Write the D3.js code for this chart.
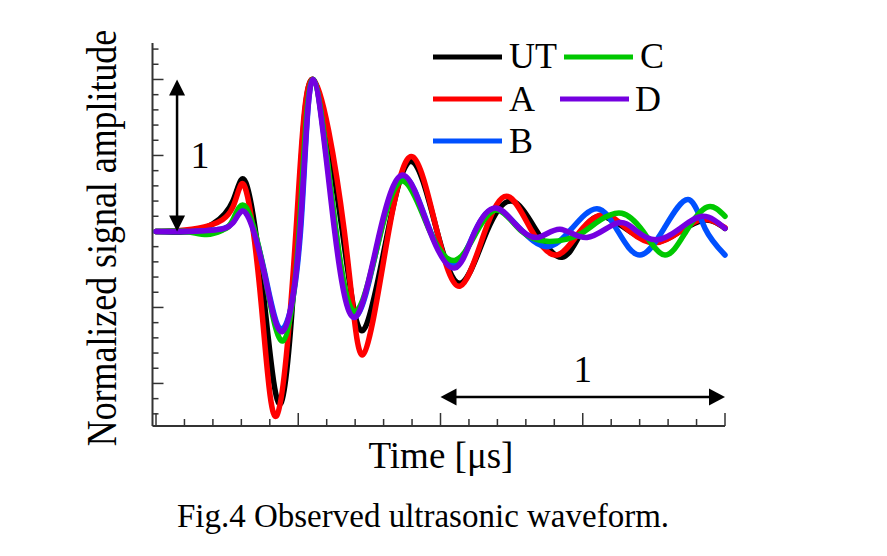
<!DOCTYPE html>
<html>
<head>
<meta charset="utf-8">
<script src="https://cdn.jsdelivr.net/npm/d3@7/dist/d3.min.js"></script>
<style>
  html, body { margin: 0; padding: 0; background: #fff; }
  svg { display: block; }
  text { font-family: "Liberation Serif", "Times New Roman", serif; fill: #000; }
</style>
</head>
<body>
<svg id="chart" width="887" height="556"></svg>
<script>
// ---- data (time in µs, normalized amplitude) ----
const seriesNames = ["UT", "A", "B", "C", "D"];
const seriesColors = ["#000000", "#ff0000", "#0050ff", "#00c800", "#7400e0"];

const dataUT = [[0,0],[0.12,0],[0.2,0.05],[0.27,0.2],[0.316,0.32],[0.377,-0.4],[0.439,-1.13],[0.496,0],[0.552,1.0],[0.655,0],[0.728,-0.65],[0.815,0],[0.9,0.46],[0.988,0],[1.072,-0.34],[1.163,0],[1.251,0.2],[1.339,0],[1.427,-0.17],[1.497,0],[1.568,0.1],[1.666,0],[1.754,-0.07],[1.842,0],[1.93,0.075],[2.0,0.02]];
const dataA = [[0,0],[0.102,0.01],[0.19,0.04],[0.27,0.16],[0.313,0.29],[0.369,-0.46],[0.425,-1.21],[0.492,0],[0.552,1.0],[0.662,0],[0.728,-0.81],[0.818,0],[0.903,0.49],[0.988,0],[1.069,-0.36],[1.156,0],[1.237,0.23],[1.322,0],[1.409,-0.155],[1.49,0],[1.578,0.11],[1.666,0],[1.754,-0.075],[1.842,0],[1.923,0.08],[2.0,0.025]];
const dataB = [[0,0],[0.12,0],[0.207,0.01],[0.27,0.06],[0.316,0.13],[0.38,-0.255],[0.443,-0.64],[0.508,0],[0.552,1.0],[0.632,0],[0.707,-0.55],[0.79,0],[0.875,0.36],[0.965,0],[1.051,-0.22],[1.121,0],[1.192,0.15],[1.279,0.02],[1.374,-0.1],[1.462,0.02],[1.55,0.15],[1.624,0],[1.701,-0.155],[1.786,0.02],[1.87,0.21],[1.93,0.02],[2.0,-0.155]];
const dataC = [[0,0],[0.102,0],[0.179,-0.02],[0.235,0.01],[0.27,0.075],[0.316,0.16],[0.381,-0.28],[0.446,-0.72],[0.503,0],[0.552,1.0],[0.633,0],[0.707,-0.52],[0.791,0],[0.872,0.33],[0.963,0],[1.051,-0.19],[1.128,0],[1.202,0.14],[1.286,0],[1.374,-0.065],[1.445,-0.05],[1.497,-0.01],[1.562,0.075],[1.637,0.12],[1.712,0],[1.789,-0.155],[1.863,0],[1.937,0.16],[2.0,0.1]];
const dataD = [[0,0],[0.12,0],[0.207,0.01],[0.27,0.055],[0.316,0.12],[0.38,-0.27],[0.443,-0.66],[0.506,0],[0.552,1.0],[0.628,0],[0.703,-0.56],[0.787,0],[0.872,0.37],[0.963,0],[1.051,-0.24],[1.121,0],[1.192,0.155],[1.262,0.05],[1.339,-0.04],[1.42,0.015],[1.515,-0.04],[1.62,0.055],[1.691,0],[1.761,-0.055],[1.842,0.02],[1.923,0.1],[2.0,0.02]];
const seriesData = [dataUT, dataA, dataB, dataC, dataD];

const xTicks = d3.range(0, 2.0001, 0.1);
const yTicks = d3.range(-1.2, 1.2001, 0.1);
const xTitle = "Time [μs]";
const yTitle = "Normalized signal amplitude";
const caption = "Fig.4 Observed ultrasonic waveform.";
const scaleBarLabel = "1";

// ---- scales ----
const svg = d3.select("#chart");
const x = d3.scaleLinear().domain([0, 2]).range([156, 725]);
const y = d3.scaleLinear().domain([-1.28, 1.24]).range([426, 43]);
const axisX0 = 152.5;

const isMajor = v => Math.abs(v * 2 - Math.round(v * 2)) < 1e-6;

// ---- axes ----
const gx = svg.append("g");
gx.append("line").attr("x1", axisX0).attr("x2", x(2)).attr("y1", y(-1.28)).attr("y2", y(-1.28))
  .attr("stroke", "#333").attr("stroke-width", 2);
gx.selectAll("line.t").data(xTicks).join("line").attr("class", "t")
  .attr("x1", d => x(d)).attr("x2", d => x(d))
  .attr("y1", y(-1.28)).attr("y2", d => y(-1.28) - (isMajor(d) ? 13 : 7))
  .attr("stroke", "#333").attr("stroke-width", 1.5);

const gy = svg.append("g");
gy.append("line").attr("x1", axisX0).attr("x2", axisX0).attr("y1", y(1.24)).attr("y2", y(-1.28))
  .attr("stroke", "#333").attr("stroke-width", 2);
gy.selectAll("line.t").data(yTicks).join("line").attr("class", "t")
  .attr("x1", axisX0).attr("x2", d => axisX0 + (isMajor(d) ? 11 : 6))
  .attr("y1", d => y(d)).attr("y2", d => y(d))
  .attr("stroke", "#333").attr("stroke-width", 1.5);

// ---- curves ----
const line = d3.line().x(d => x(d[0])).y(d => y(d[1])).curve(d3.curveNatural);
svg.append("g").selectAll("path").data(seriesData).join("path")
  .attr("d", d => line(d))
  .attr("fill", "none")
  .attr("stroke", (d, i) => seriesColors[i])
  .attr("stroke-width", 5.5)
  .attr("stroke-linecap", "round")
  .attr("stroke-linejoin", "round");

// ---- scale-bar arrows ----
function arrow(x1, y1, x2, y2, hl, hw) {
  const g = svg.append("g");
  const ang = Math.atan2(y2 - y1, x2 - x1);
  const ux = Math.cos(ang), uy = Math.sin(ang);
  g.append("line").attr("x1", x1 + ux * hl * 0.8).attr("y1", y1 + uy * hl * 0.8)
    .attr("x2", x2 - ux * hl * 0.8).attr("y2", y2 - uy * hl * 0.8)
    .attr("stroke", "#000").attr("stroke-width", 2.5);
  const head = (px, py, dx, dy) => {
    const bx = px - dx * hl, by = py - dy * hl;
    return [[px, py], [bx - dy * hw, by + dx * hw], [bx + dy * hw, by - dx * hw]];
  };
  [head(x2, y2, ux, uy), head(x1, y1, -ux, -uy)].forEach(p =>
    g.append("polygon").attr("points", p.map(q => q.join(",")).join(" ")).attr("fill", "#000"));
}
arrow(x(0.074), y(1.0), x(0.074), y(0), 16, 8);
arrow(x(1.0), y(-1.09), x(2.0), y(-1.09), 16, 8.5);

svg.append("text").attr("x", x(0.155)).attr("y", y(0.42)).attr("text-anchor", "middle")
  .attr("font-size", 38).text(scaleBarLabel);
svg.append("text").attr("x", x(1.5)).attr("y", y(-0.99)).attr("text-anchor", "middle")
  .attr("font-size", 37).text(scaleBarLabel);

// ---- legend ----
const legendPos = [
  {lx1: 433, lx2: 502, ly: 57, tx: 509, ty: 68},
  {lx1: 433, lx2: 502, ly: 99, tx: 509, ty: 111},
  {lx1: 433, lx2: 502, ly: 141, tx: 509, ty: 153},
  {lx1: 564, lx2: 633, ly: 57, tx: 640, ty: 68},
  {lx1: 560, lx2: 629, ly: 99, tx: 635, ty: 111}
];
const lg = svg.append("g");
seriesNames.forEach((n, i) => {
  const p = legendPos[i];
  lg.append("line").attr("x1", p.lx1).attr("x2", p.lx2).attr("y1", p.ly).attr("y2", p.ly)
    .attr("stroke", seriesColors[i]).attr("stroke-width", 5);
  lg.append("text").attr("x", p.tx).attr("y", p.ty).attr("font-size", 36).text(n);
});

// ---- titles ----
svg.append("text").attr("x", 441).attr("y", 468).attr("text-anchor", "middle")
  .attr("font-size", 37).text(xTitle);
svg.append("text").attr("transform", "translate(116,238) rotate(-90) scale(0.97,1.12)").attr("text-anchor", "middle")
  .attr("font-size", 37).text(yTitle);
svg.append("text").attr("x", 423).attr("y", 527).attr("text-anchor", "middle")
  .attr("font-size", 33).text(caption);
</script>
</body>
</html>
